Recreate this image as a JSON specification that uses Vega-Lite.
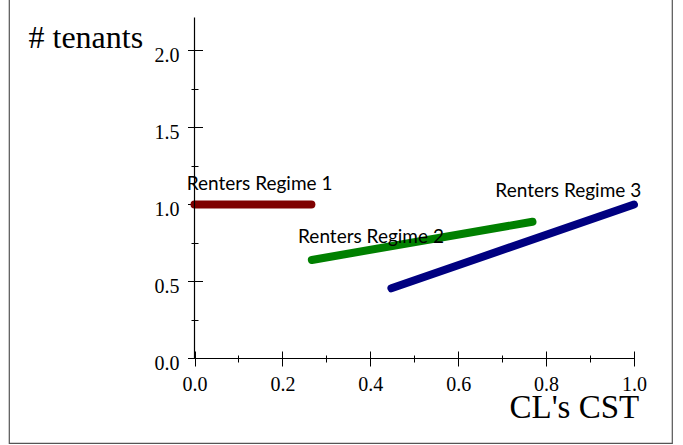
{
  "$schema": "https://vega.github.io/schema/vega-lite/v6.json",
  "width": 663,
  "height": 445,
  "autosize": "none",
  "padding": {"left": 9, "top": -2, "right": 11, "bottom": 2},
  "background": "white",
  "config": {
    "view": {"stroke": "#555555", "strokeWidth": 1.2},
    "axis": {"grid": false, "domain": false, "tickColor": "black", "labelColor": "black", "titleColor": "black", "labelFont": "Liberation Serif", "titleFont": "Liberation Serif", "titleFontWeight": "normal"}
  },
  "datasets": {
    "lines": [
      {"regime": "Renters Regime 1", "x": 0.0, "y": 1.0},
      {"regime": "Renters Regime 1", "x": 0.266, "y": 1.0},
      {"regime": "Renters Regime 2", "x": 0.267, "y": 0.64},
      {"regime": "Renters Regime 2", "x": 0.769, "y": 0.888},
      {"regime": "Renters Regime 3", "x": 0.448, "y": 0.456},
      {"regime": "Renters Regime 3", "x": 1.0, "y": 1.0}
    ],
    "axes": [
      {"x": 0, "x2": 1.0, "y": 0, "y2": 0},
      {"x": 0, "x2": 0, "y": 0, "y2": 2.215}
    ],
    "labels": [
      {"label": "Renters Regime 1", "x": 0.148, "y": 1.094},
      {"label": "Renters Regime 2", "x": 0.4016, "y": 0.747},
      {"label": "Renters Regime 3", "x": 0.8505, "y": 1.047}
    ]
  },
  "resolve": {"axis": {"x": "independent", "y": "independent"}},
  "layer": [
    {
      "data": {"name": "lines"},
      "mark": {"type": "line", "strokeWidth": 8, "strokeCap": "round"},
      "encoding": {
        "x": {"field": "x", "type": "quantitative",
          "scale": {"domain": [-0.4221, 1.0865], "nice": false, "zero": false},
          "axis": {"orient": "bottom", "offset": -84.5, "values": [0, 0.2, 0.4, 0.6, 0.8, 1.0], "format": ".1f", "ticks": false, "tickSize": 0, "labelFontSize": 20, "labelBaseline": "alphabetic", "labelPadding": 32, "labelFlush": false, "labelOverlap": false,
            "title": "CL's CST", "titleFontSize": 33, "titleX": 500, "titleY": 59, "titleAlign": "left", "titleBaseline": "alphabetic", "titleAnchor": null}},
        "y": {"field": "y", "type": "quantitative",
          "scale": {"domain": [-0.5487, 2.3409], "nice": false, "zero": false},
          "axis": {"orient": "left", "offset": -185.5, "values": [0, 0.5, 1.0, 1.5, 2.0], "format": ".1f", "ticks": false, "tickSize": 0, "labelFontSize": 20, "labelBaseline": "alphabetic", "labelAlign": "right", "labelPadding": 15.5, "labelOffset": 11, "labelFlush": false, "labelOverlap": false,
            "title": "# tenants", "titleFontSize": 32, "titleAngle": 0, "titleX": -166.5, "titleY": 49.7, "titleAlign": "left", "titleBaseline": "alphabetic", "titleAnchor": null}},
        "color": {"field": "regime", "type": "nominal", "legend": null,
          "scale": {"domain": ["Renters Regime 1", "Renters Regime 2", "Renters Regime 3"], "range": ["#7f0000", "#008000", "#000080"]}},
        "order": {"field": "x", "type": "quantitative"}
      }
    },
    {
      "data": {"name": "axes"},
      "mark": {"type": "rule", "color": "black", "strokeWidth": 1.2},
      "encoding": {
        "x": {"field": "x", "type": "quantitative",
          "axis": {"orient": "bottom", "offset": -77, "values": [0, 0.2, 0.4, 0.6, 0.8, 1.0], "tickSize": -15, "labels": false, "title": null}},
        "x2": {"field": "x2"},
        "y": {"field": "y", "type": "quantitative",
          "axis": {"orient": "left", "offset": -178.5, "values": [0, 0.5, 1.0, 1.5, 2.0], "tickSize": -15, "labels": false, "title": null}},
        "y2": {"field": "y2"}
      }
    },
    {
      "data": {"name": "labels"},
      "mark": {"type": "text", "font": "Lato", "fontSize": 19, "align": "center", "baseline": "alphabetic", "color": "black"},
      "encoding": {
        "x": {"field": "x", "type": "quantitative",
          "axis": {"orient": "bottom", "offset": -81, "values": [0.1, 0.3, 0.5, 0.7, 0.9], "tickSize": -7, "labels": false, "title": null}},
        "y": {"field": "y", "type": "quantitative",
          "axis": {"orient": "left", "offset": -182, "values": [0.25, 0.75, 1.25, 1.75], "tickSize": -7, "labels": false, "title": null}},
        "text": {"field": "label"}
      }
    }
  ]
}
